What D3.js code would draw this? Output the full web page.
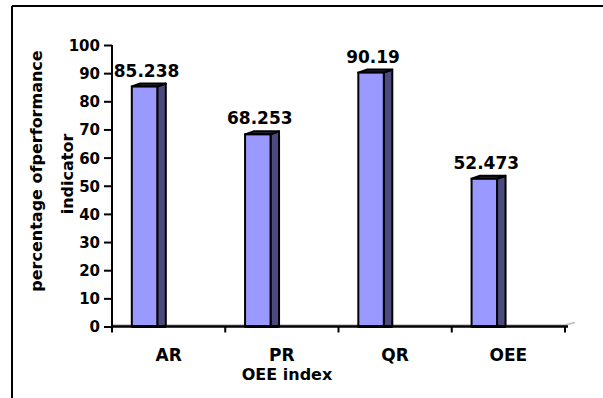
<!DOCTYPE html>
<html>
<head>
<meta charset="utf-8">
<script src="https://cdn.jsdelivr.net/npm/d3@7"></script>
<style>
  html, body { margin: 0; padding: 0; background: #fff; }
  svg { display: block; }
  text { font-family: "DejaVu Sans", sans-serif; font-weight: bold; fill: #000; }
</style>
</head>
<body>
<svg id="chart" width="603" height="398"></svg>
<script>
// OEE indicators (percent)
const categories = ["AR", "PR", "QR", "OEE"];
const values = [85.238, 68.253, 90.19, 52.473];
const valueLabels = ["85.238", "68.253", "90.19", "52.473"];
const yTicks = [0, 10, 20, 30, 40, 50, 60, 70, 80, 90, 100];
const xTitle = "OEE index";
const yTitleLines = ["percentage ofperformance", "indicator"];

const svg = d3.select("#chart");

// frame (top and left edges only)
svg.append("line").attr("x1", 12).attr("y1", 6).attr("x2", 603).attr("y2", 6)
  .attr("stroke", "#000").attr("stroke-width", 2);
svg.append("line").attr("x1", 12).attr("y1", 6).attr("x2", 12).attr("y2", 398)
  .attr("stroke", "#000").attr("stroke-width", 2);

const x = d3.scaleBand().domain(categories).range([112, 565]).padding(0);
const y = d3.scaleLinear().domain([0, 100]).range([326.5, 45]);
const bw = x.bandwidth();
const frontOff = bw * 0.175, frontW = bw * 0.225, depth = bw * 0.075, rise = 3;

// floor line behind the bars (3D floor edge)
svg.append("polyline")
  .attr("points", `${112},${y(0) - 1.5} ${565},${y(0) - 1.5} ${575},${y(0) - 4}`)
  .attr("fill", "none").attr("stroke", "#bbb").attr("stroke-width", 1.5);

// bars: side face, top face, front face
const bars = svg.append("g").selectAll("g").data(categories).join("g");
bars.each(function(c, i) {
  const g = d3.select(this);
  const x0 = x(c) + frontOff, x1 = x0 + frontW, x2 = x1 + depth;
  const yt = y(values[i]), yb = y(0);
  g.append("polygon")
    .attr("points", `${x1},${yt} ${x2},${yt - rise} ${x2},${yb} ${x1},${yb}`)
    .attr("fill", "#4b4b80").attr("stroke", "#000").attr("stroke-width", 2).attr("stroke-linejoin", "round");
  g.append("polygon")
    .attr("points", `${x0},${yt} ${x1},${yt} ${x2},${yt - rise} ${x0 + depth},${yt - rise}`)
    .attr("fill", "#2a2a4a").attr("stroke", "#000").attr("stroke-width", 2).attr("stroke-linejoin", "round");
  g.append("rect")
    .attr("x", x0).attr("y", yt).attr("width", frontW).attr("height", yb - yt)
    .attr("fill", "#9999ff").attr("stroke", "#000").attr("stroke-width", 2);
  g.append("line").attr("x1", x0).attr("x2", x2).attr("y1", yb).attr("y2", yb)
    .attr("stroke", "#000").attr("stroke-width", 3);
});

// value labels
svg.append("g").selectAll("text").data(categories).join("text")
  .attr("x", (c) => x(c) + frontOff + frontW / 2 + 2)
  .attr("y", (c, i) => y(values[i]) - 10)
  .attr("text-anchor", "middle")
  .style("font-size", "17px")
  .text((c, i) => valueLabels[i]);

// y axis
const yAxis = svg.append("g").attr("transform", "translate(112,0)")
  .call(d3.axisLeft(y).tickValues(yTicks).tickSize(8).tickPadding(4).tickFormat(d3.format("d")));
yAxis.select(".domain").attr("d", `M-0,${y(100)}V${y(0) + 6}`).attr("stroke", "#000").attr("stroke-width", 2);
yAxis.selectAll(".tick line").attr("stroke", "#000").attr("stroke-width", 2);
yAxis.selectAll(".tick text").style("font-size", "15px").style("font-family", "DejaVu Sans").style("font-weight", "bold").attr("dy", "0.36em");

// x axis
const xAxis = svg.append("g").attr("transform", `translate(0,${y(0)})`)
  .call(d3.axisBottom(x).tickSize(0).tickPadding(22));
xAxis.select(".domain").attr("d", `M112,0H568`).attr("stroke", "#000").attr("stroke-width", 2.5);
xAxis.selectAll(".tick text").style("font-size", "17px").style("font-family", "DejaVu Sans").style("font-weight", "bold");
// category separators
svg.append("g").selectAll("line").data(categories).join("line")
  .attr("x1", (c) => x(c) + bw).attr("x2", (c) => x(c) + bw)
  .attr("y1", y(0)).attr("y2", y(0) + 6)
  .attr("stroke", "#000").attr("stroke-width", 2);

// axis titles
svg.append("text").attr("x", 287).attr("y", 380).attr("text-anchor", "middle")
  .style("font-size", "16px").text(xTitle);
svg.append("text").attr("transform", "translate(42,171) rotate(-90)").attr("text-anchor", "middle")
  .style("font-size", "16px").text(yTitleLines[0]);
svg.append("text").attr("transform", "translate(73,174) rotate(-90)").attr("text-anchor", "middle")
  .style("font-size", "16px").text(yTitleLines[1]);
</script>
</body>
</html>
